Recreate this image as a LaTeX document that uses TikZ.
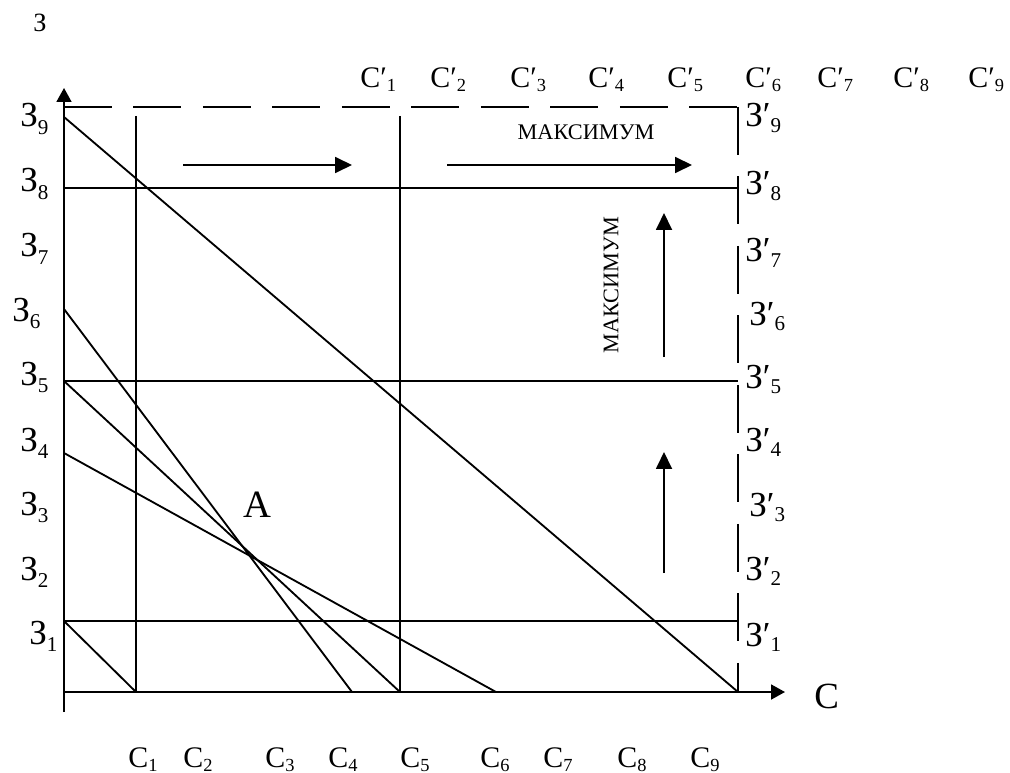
\documentclass[tikz,border=0pt]{standalone}
\usepackage{fontspec}
\setmainfont{Liberation Serif}
\usetikzlibrary{arrows.meta}

\newcommand{\lowsub}[3][0.11cm]{\raisebox{-#1}{\fontsize{#2}{#2}\selectfont #3}}

\begin{document}
\begin{tikzpicture}[
    x=0.02cm, y=-0.02cm,
    % Define styles
    line/.style={line width=1.05pt},
    frame/.style={line width=1.05pt, dash pattern=on 0.96cm off 0.43cm},
    axis/.style={line width=1.05pt, -{Triangle[length=0.28cm, width=0.3cm]}},
    move/.style={line width=1.05pt, -{Triangle[length=0.34cm, width=0.32cm]}},
    lbl/.style={anchor=base west, inner sep=0pt, font=\fontsize{17}{18}\selectfont},
    zlbl/.style={lbl, font=\fontsize{20}{21}\selectfont},
    note/.style={inner sep=0pt, font=\fontsize{12.7}{13}\selectfont}
]
    \useasboundingbox (0,0) rectangle (1010,773);

    % --- POINTS ---
    \coordinate (origin) at (64,692);
    \coordinate (ybot) at (64,712);
    \coordinate (ytop) at (64,88);
    \coordinate (xend) at (785,692);
    \coordinate (corner-tl) at (64,107);
    \coordinate (corner-tr) at (738,107);
    \coordinate (corner-br) at (738,692);

    \coordinate (p9) at (64,117);
    \coordinate (p8) at (64,188);
    \coordinate (p6) at (64,309);
    \coordinate (p5) at (64,381);
    \coordinate (p4) at (64,453);
    \coordinate (p1) at (64,621);
    \coordinate (q8) at (738,188);
    \coordinate (q5) at (738,381);
    \coordinate (q1) at (738,621);

    \coordinate (s1) at (136,692);
    \coordinate (s4) at (352,692);
    \coordinate (s5) at (400,692);
    \coordinate (s6) at (496,692);
    \coordinate (t1) at (136,116);
    \coordinate (t5) at (400,116);

    % --- LABELS ---
    \node[lbl, font=\fontsize{15}{16}\selectfont] (z-axis) at (33,32) {З};
    \node[lbl, font=\fontsize{21}{22}\selectfont] (c-axis) at (814,708) {С};
    \node[lbl, font=\fontsize{22}{23}\selectfont] (point-a) at (243,517) {А};

    \foreach \i/\xx/\yy in {9/20/127, 8/20/192, 7/20/257, 6/12/321, 5/20/385,
                            4/20/451, 3/20/515, 2/20/580, 1/29/644}
        \node[zlbl] (zl\i) at (\xx,\yy) {З\lowsub[0.15cm]{12}{\i}};

    \foreach \i/\xx/\yy in {9/745/127, 8/745/195, 7/745/262, 6/749/325, 5/745/388,
                            4/745/451, 3/749/516, 2/745/580, 1/745/646}
        \node[zlbl] (zr\i) at (\xx,\yy) {З′\lowsub{12}{\i}};

    \foreach \i/\xx in {1/360, 2/430, 3/510, 4/588, 5/667, 6/745, 7/817, 8/893, 9/968}
        \node[lbl] (ct\i) at (\xx,88) {С′\lowsub[0.08cm]{10.5}{\i}};

    \foreach \i/\xx in {1/128, 2/183, 3/265, 4/328, 5/400, 6/480, 7/543, 8/617, 9/690}
        \node[lbl] (cb\i) at (\xx,767) {С\lowsub[0.08cm]{10.5}{\i}};

    \node[note] (max-h) at (586,132) {МАКСИМУМ};
    \node[note, rotate=90] (max-v) at (611,285) {МАКСИМУМ};

    % --- AXES AND FRAME ---
    \draw[axis] (ybot) -- (ytop);
    \draw[axis] (origin) -- (xend);
    \draw[frame] (corner-tl) -- (corner-tr);
    \draw[frame] (corner-tr) -- (corner-br);

    % --- GRID LINES ---
    \draw[line] (p8) -- (q8);
    \draw[line] (p5) -- (q5);
    \draw[line] (p1) -- (q1);
    \draw[line] (t1) -- (s1);
    \draw[line] (t5) -- (s5);

    % --- DIAGONALS ---
    \draw[line] (p9) -- (corner-br);
    \draw[line] (p6) -- (s4);
    \draw[line] (p5) -- (s5);
    \draw[line] (p4) -- (s6);
    \draw[line] (p1) -- (s1);

    % --- DIRECTION ARROWS ---
    \coordinate (h1a) at (183,165); \coordinate (h1b) at (352,165);
    \coordinate (h2a) at (447,165); \coordinate (h2b) at (692,165);
    \coordinate (v1a) at (664,357); \coordinate (v1b) at (664,213);
    \coordinate (v2a) at (664,573); \coordinate (v2b) at (664,452);
    \draw[move] (h1a) -- (h1b);
    \draw[move] (h2a) -- (h2b);
    \draw[move] (v1a) -- (v1b);
    \draw[move] (v2a) -- (v2b);

\end{tikzpicture}
\end{document}
